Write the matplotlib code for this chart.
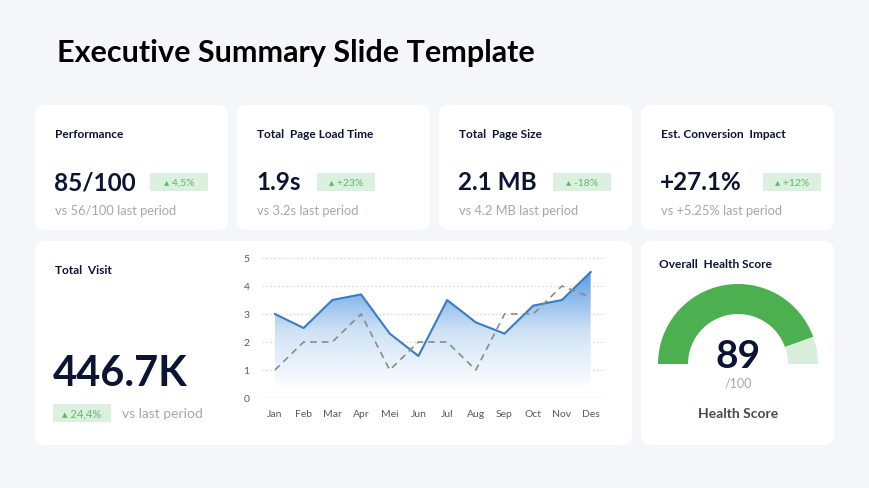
import numpy as np
import matplotlib
matplotlib.use("Agg")
import matplotlib.pyplot as plt
from matplotlib.patches import FancyBboxPatch, Wedge, Rectangle
from matplotlib.colors import LinearSegmentedColormap

plt.rcParams['font.family'] = ['Lato', 'DejaVu Sans']

# data
months = ["Jan", "Feb", "Mar", "Apr", "Mei", "Jun", "Jul", "Aug", "Sep", "Oct", "Nov", "Des"]
visits_now = [3.0, 2.5, 3.5, 3.7, 2.3, 1.5, 3.5, 2.7, 2.3, 3.3, 3.5, 4.5]
visits_prev = [1.0, 2.0, 2.0, 3.0, 1.0, 2.0, 2.0, 1.0, 3.0, 3.0, 4.0, 3.6]
y_ticks = [0, 1, 2, 3, 4, 5]

kpi_titles = ["Performance", "Total  Page Load Time", "Total  Page Size", "Est. Conversion  Impact"]
kpi_values = ["85/100", "1.9s", "2.1 MB", "+27.1%"]
kpi_deltas = ["4,5%", "+23%", "-18%", "+12%"]
kpi_prev = ["vs 56/100 last period", "vs 3.2s last period", "vs 4.2 MB last period", "vs +5.25% last period"]

total_visit = "446.7K"
total_delta = "24,4%"
health_score = 89
health_max = 100

BG = "#f4f6f9"
NAVY = "#0b1533"
GRAY = "#a3a7ad"
GREEN = "#4caf50"
BADGE_TXT = "#5fb866"
BADGE = "#dcf0df"
LIGHT_GREEN = "#d8eedb"

W, H = 870, 489
fig = plt.figure(figsize=(W / 100, H / 100), dpi=100)
fig.patch.set_facecolor(BG)

# full-figure axes in pixel coordinates for the layout
bg = fig.add_axes([0, 0, 1, 1])
bg.set_xlim(0, W)
bg.set_ylim(H, 0)
bg.axis("off")


def card(x0, y0, x1, y1):
    bg.add_patch(FancyBboxPatch((x0, y0), x1 - x0, y1 - y0,
                                boxstyle="round,pad=0,rounding_size=10",
                                fc="white", ec="none"))


def badge(x, y, w, txt, fs=7.5):
    bg.add_patch(Rectangle((x, y - 9), w, 18, fc=BADGE, ec="none"))
    bg.text(x + w / 2, y, "\u25b4 " + txt, fontsize=fs, color=BADGE_TXT,
            ha="center", va="center")


bg.text(57, 53, "Executive Summary Slide Template", fontsize=22, fontweight="bold",
        color="black", va="center", ha="left")

# KPI cards
card_x = [35, 237, 439, 641]
badge_x = [150, 317, 553, 763]
for i in range(4):
    x0 = card_x[i]
    card(x0, 106, x0 + 193, 231)
    bg.text(x0 + 20, 134, kpi_titles[i], fontsize=8.6, fontweight="bold", color=NAVY, va="center")
    bg.text(x0 + 19, 183, kpi_values[i], fontsize=17.5, fontweight="bold", color=NAVY, va="center")
    badge(badge_x[i], 183, 58, kpi_deltas[i])
    bg.text(x0 + 20, 211, kpi_prev[i], fontsize=9.3, color=GRAY, va="center")

# Total visit card
card(35, 242, 632, 446)
bg.text(55, 270, "Total  Visit", fontsize=8.6, fontweight="bold", color=NAVY, va="center")
bg.text(53, 374, total_visit, fontsize=30, fontweight="bold", color=NAVY, va="center")
badge(53, 414, 58, total_delta, fs=8)
bg.text(122, 414, "vs last period", fontsize=10, color=GRAY, va="center")

# Health card
card(641, 242, 834, 446)
bg.text(659, 265, "Overall  Health Score", fontsize=8.6, fontweight="bold", color=NAVY, va="center")
cx, cy, r_out, thick = 738, 365, 80, 30
split = 180 - 180 * health_score / health_max
# y axis is inverted, so the upper half uses negative angles
bg.add_patch(Wedge((cx, cy), r_out, -180, -split, width=thick, fc=GREEN, ec="none"))
bg.add_patch(Wedge((cx, cy), r_out, -split, 0, width=thick, fc=LIGHT_GREEN, ec="none"))
bg.text(cx, 356, str(health_score), fontsize=28, fontweight="bold", color=NAVY,
        ha="center", va="center")
bg.text(cx, 384, "/" + str(health_max), fontsize=9, color=GRAY, ha="center", va="center")
bg.text(cx, 414, "Health Score", fontsize=10, fontweight="bold", color="#454a52",
        ha="center", va="center")

# line chart
ax = fig.add_axes([262 / W, 1 - 399 / H, (605 - 262) / W, (399 - 259) / H])
ax.set_facecolor("none")
x = np.arange(len(months))

fill = ax.fill_between(x, visits_now, 0, color="none")
grad = np.linspace(0, 1, 256).reshape(-1, 1)
cmap = LinearSegmentedColormap.from_list("g", ["#ffffff", "#cfe2f6", "#5a9de2"])
img = ax.imshow(grad, extent=[x[0], x[-1], 0.3, max(visits_now)], origin="lower",
                aspect="auto", cmap=cmap, zorder=1)
img.set_clip_path(fill.get_paths()[0], transform=ax.transData)
ax.set_ylim(0, 5)
ax.set_xlim(-0.45, len(months) - 0.5)

ax.plot(x, visits_now, color="#3a7bc8", lw=1.5, zorder=3)
ax.plot(x, visits_prev, color="#8a8a8a", lw=1.2, ls=(0, (4, 3)), zorder=4)

for t in y_ticks[1:]:
    ax.axhline(t, color="#d9d9d9", lw=0.8, ls=(0, (1.5, 2)), zorder=0, clip_on=False)
ax.axhline(0, color="#d9d9d9", lw=1, zorder=0)

ax.set_xticks(x)
ax.set_xticklabels(months)
ax.set_yticks(y_ticks)
ax.tick_params(length=0, labelsize=7.5, labelcolor="#595959", pad=8)
ax.tick_params(axis="y", pad=9)
for s in ax.spines.values():
    s.set_visible(False)

fig.savefig("out.png", dpi=100, facecolor=BG)
